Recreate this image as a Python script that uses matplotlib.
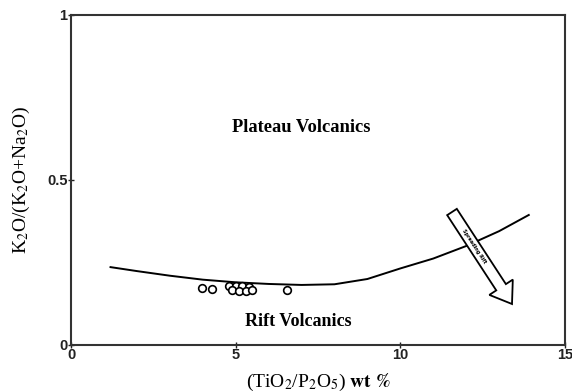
import numpy as np
import matplotlib
matplotlib.use('Agg')
from matplotlib import pyplot as plt
from matplotlib.patches import FancyArrow
from matplotlib.transforms import IdentityTransform

# boundary curve between the two fields
curve_x = [1.2, 2.0, 3.0, 4.0, 5.0, 6.0, 7.0, 8.0, 9.0, 10.0, 11.0, 12.0, 13.0, 13.9]
curve_y = [0.236, 0.224, 0.210, 0.198, 0.190, 0.185, 0.182, 0.184, 0.200, 0.232, 0.262, 0.300, 0.345, 0.394]

# samples
sample_x = [3.98, 4.28, 4.80, 5.00, 5.20, 5.40, 4.90, 5.10, 5.30, 5.50, 6.56]
sample_y = [0.172, 0.170, 0.178, 0.179, 0.178, 0.177, 0.166, 0.165, 0.165, 0.166, 0.167]

xticks = [0, 5, 10, 15]
yticks = [0, 0.5, 1]
ytick_labels = ['0', '0.5', '1']

plt.rcParams['mathtext.fontset'] = 'stix'

fig = plt.figure(figsize=(5.72, 3.92), dpi=100)
ax = fig.add_axes([71/572, 1-345/392, (565-71)/572, (345-15)/392])

ax.plot(curve_x, curve_y, color='black', lw=1.4)
ax.plot(sample_x, sample_y, 'o', mfc='white', mec='black', ms=5.5, mew=1.2)

ax.set_xlim(0, 15)
ax.set_ylim(0, 1)
ax.set_xticks(xticks)
ax.set_yticks(yticks)
ax.set_yticklabels(ytick_labels)
for lab in ax.get_xticklabels() + ax.get_yticklabels():
    lab.set_family('Liberation Sans')
    lab.set_fontweight('bold')
    lab.set_fontsize(10.5)
ax.tick_params(direction='inout', length=5, width=1, pad=0, colors='#222222')
for s in ax.spines.values():
    s.set_linewidth(1.5)
    s.set_color('#333333')

ax.set_ylabel(r'K$_2$O/(K$_2$O+Na$_2$O)', family='Liberation Serif', fontsize=14, labelpad=11)
ax.set_xlabel(r'(TiO$_2$/P$_2$O$_5$) $\mathbf{wt\ \%}$', family='Liberation Serif', fontsize=14, labelpad=7)

ax.text(7.0, 0.66, 'Plateau Volcanics', family='Liberation Serif', fontweight='bold',
        fontsize=13.3, ha='center', va='center')
ax.text(6.9, 0.07, 'Rift Volcanics', family='Liberation Serif', fontweight='bold',
        fontsize=13, ha='center', va='center')

# hollow "Spreading Rift" arrow, drawn in pixel space
x0, y0 = 452, 392 - 212
x1, y1 = 512, 392 - 304
arr = FancyArrow(x0, y0, x1 - x0, y1 - y0, width=11.5, head_width=28, head_length=20,
                 length_includes_head=True, transform=IdentityTransform(),
                 facecolor='white', edgecolor='black', lw=1.3, zorder=5)
fig.patches.append(arr)
ang = np.degrees(np.arctan2(y1 - y0, x1 - x0))
fig.text(474 / 572, 1 - 246 / 392, 'Spreading Rift', fontsize=3.5, fontweight='bold',
         rotation=ang, ha='center', va='center', zorder=6)

fig.savefig('out.png', dpi=100)
